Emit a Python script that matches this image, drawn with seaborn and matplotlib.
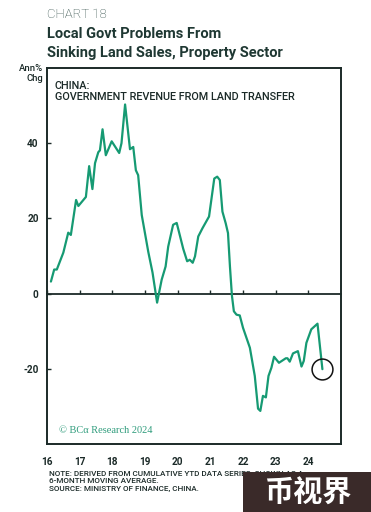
import numpy as np
import pandas as pd
import matplotlib.pyplot as plt
import matplotlib.patches as patches
import seaborn as sns

# Data (decimal year, annual % change)
years = [2016.12, 2016.22, 2016.30, 2016.50, 2016.65, 2016.73, 2016.89, 2016.96,
         2017.19, 2017.29, 2017.39, 2017.47, 2017.57, 2017.62, 2017.70, 2017.80,
         2017.98, 2018.21, 2018.28, 2018.39, 2018.54, 2018.64, 2018.72, 2018.79,
         2018.90, 2019.10, 2019.23, 2019.37, 2019.51, 2019.63, 2019.71, 2019.86,
         2019.97, 2020.17, 2020.29, 2020.37, 2020.46, 2020.53, 2020.63, 2020.76,
         2020.96, 2021.12, 2021.21, 2021.29, 2021.37, 2021.47, 2021.54, 2021.60,
         2021.66, 2021.72, 2021.80, 2021.90, 2022.00, 2022.21, 2022.36, 2022.46,
         2022.53, 2022.61, 2022.70, 2022.78, 2022.87, 2022.95, 2023.10, 2023.31,
         2023.36, 2023.43, 2023.53, 2023.68, 2023.79, 2023.86, 2023.94, 2024.09,
         2024.28, 2024.43]
revenue = [3.2, 6.4, 6.4, 10.9, 16.2, 15.6, 24.9, 23.3,
           25.7, 33.9, 27.8, 34.7, 37.6, 38.1, 43.7, 36.8,
           40.5, 37.4, 40.0, 50.3, 38.4, 39.0, 32.8, 31.5,
           20.9, 11.1, 5.6, -2.4, 3.7, 7.2, 12.5, 18.3,
           18.8, 11.9, 8.6, 9.0, 8.2, 9.9, 15.2, 17.4,
           20.5, 30.6, 31.1, 30.2, 21.8, 18.7, 16.1, 7.2,
           -0.5, -4.7, -5.6, -5.8, -9.1, -14.4, -21.9, -30.6,
           -31.2, -27.2, -27.6, -21.9, -19.7, -16.8, -18.4, -17.2,
           -17.2, -18.1, -15.9, -15.3, -19.4, -17.9, -13.1, -9.5,
           -8.0, -20.1]
year_ticks = [2016, 2017, 2018, 2019, 2020, 2021, 2022, 2023, 2024]
year_labels = ["16", "17", "18", "19", "20", "21", "22", "23", "24"]
y_ticks = [-20, 0, 20, 40]

df = pd.DataFrame({"Year": years, "Revenue": revenue})

sns.set_theme(style="white")
plt.rcParams["font.family"] = ["Roboto", "DejaVu Sans"]

line_color = "#169a73"
frame_color = "#1b2a28"
text_color = "#1f3833"
narrow = ["Liberation Sans Narrow", "Roboto", "DejaVu Sans"]

fig = plt.figure(figsize=(3.71, 5.12), dpi=100)
ax = fig.add_axes([0.1267, 0.1328, 0.7925, 0.7344])

sns.lineplot(data=df, x="Year", y="Revenue", ax=ax, color=line_color, linewidth=1.6)

# Circle highlighting the latest reading
ax.plot(df["Year"].iloc[-1], df["Revenue"].iloc[-1], marker="o", markersize=15,
        markerfacecolor="none", markeredgecolor="#111111", markeredgewidth=1.1)

ax.set_xlim(2016, 2025)
ax.set_ylim(-40, 60)
ax.set_xlabel("")
ax.set_ylabel("")

for s in ax.spines.values():
    s.set_visible(True)
    s.set_color(frame_color)
    s.set_linewidth(1.4)

ax.set_yticks(y_ticks)
ax.set_yticklabels([str(v) for v in y_ticks])
ax.set_xticks(year_ticks)
ax.set_xticklabels(year_labels)
ax.tick_params(axis="x", length=0, pad=9, labelsize=7.2, labelcolor=frame_color)
ax.tick_params(axis="y", direction="in", length=3, width=1, color=frame_color,
               left=True, pad=6, labelsize=7.2, labelcolor=frame_color)
for lbl in ax.get_xticklabels() + ax.get_yticklabels():
    lbl.set_fontweight("bold")

# zero line carrying the year ticks
zero = ax.secondary_xaxis(0.4)
zero.spines["bottom"].set_color(frame_color)
zero.spines["bottom"].set_linewidth(1.3)
zero.set_xticks(year_ticks)
zero.tick_params(direction="in", length=3, width=1, color=frame_color, labelbottom=False)

ax.text(0.027, 0.965, "CHINA:\nGOVERNMENT REVENUE FROM LAND TRANSFER", transform=ax.transAxes,
        ha="left", va="top", fontsize=7.8, fontweight="medium", color=frame_color,
        linespacing=1.15)
ax.text(0.04, 0.025, "© BCα Research 2024", transform=ax.transAxes, ha="left", va="bottom",
        fontsize=7.5, color="#2f9c7c", family=["Liberation Serif", "DejaVu Serif"])

fig.text(0.1267, 0.972, "CHART 18", ha="left", va="center", fontsize=9.5,
         fontweight="light", color="#2d4a45")
fig.text(0.1267, 0.934, "Local Govt Problems From", ha="left", va="center",
         fontsize=10.5, fontweight="bold", color=text_color, family=narrow)
fig.text(0.1267, 0.896, "Sinking Land Sales, Property Sector", ha="left", va="center",
         fontsize=10.5, fontweight="bold", color=text_color, family=narrow)
fig.text(0.117, 0.857, "Ann%\nChg", ha="right", va="center", fontsize=6.8,
         fontweight="medium", color=frame_color, linespacing=1.15)

fig.text(0.132, 0.081, "NOTE: DERIVED FROM CUMULATIVE YTD DATA SERIES; SHOWN AS A\n"
         "6-MONTH MOVING AVERAGE.\nSOURCE: MINISTRY OF FINANCE, CHINA.",
         ha="left", va="top", fontsize=5.9, fontweight="medium", color=frame_color,
         linespacing=1.3)

# watermark box
fig.patches.append(patches.Rectangle((0.655, 0.0), 0.345, 0.078, transform=fig.transFigure,
                                     facecolor="#3a2a29", edgecolor="none", zorder=5))
fig.text(0.83, 0.038, "币视界", ha="center", va="center", fontsize=21, fontweight="bold",
         color="white", family=["Noto Sans CJK SC", "DejaVu Sans"], zorder=6)

fig.savefig("out.png", dpi=100)
